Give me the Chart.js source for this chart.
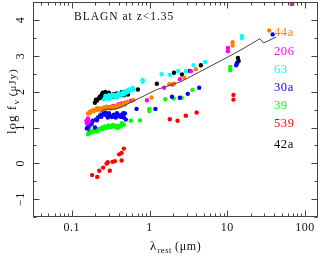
<!DOCTYPE html>
<html>
<head>
<meta charset="utf-8">
<script src="https://cdn.jsdelivr.net/npm/chart.js@4/dist/chart.umd.min.js"></script>
<style>
html,body{margin:0;padding:0;background:#fff;}
canvas{display:block;}
</style>
</head>
<body>
<canvas id="c" width="322" height="258"></canvas>
<script>
// ---- data (rest wavelength in micron, log flux in microJy) ----
const seriesNames = ['44a', '206', '63', '30a', '39', '539', '42a'];

const wl_44a  = [0.161,0.171,0.181,0.192,0.204,0.216,0.229,0.243,0.258,0.274,0.290,0.308,0.327,0.347,0.368,0.391,0.415,0.440,0.467,0.495,0.526,0.17,0.19,0.21,0.25,0.28,0.32,0.36,0.42,0.48,0.617,1.06,1.79,2.06,2.79,3.94,11.7,11.7,34.6];
const lf_44a  = [1.39,1.44,1.47,1.49,1.50,1.49,1.53,1.50,1.56,1.53,1.57,1.54,1.58,1.56,1.60,1.58,1.64,1.63,1.67,1.69,1.72,1.40,1.45,1.54,1.53,1.58,1.53,1.56,1.60,1.64,1.77,1.84,2.21,2.22,2.39,2.63,3.38,3.29,3.71];

const wl_206  = [0.154,0.156,0.161,0.165,0.308,0.337,0.368,0.403,0.440,0.481,0.575,0.925,1.54,1.98,2.45,3.40,10.2,10.2,67.5];
const lf_206  = [1.19,1.11,1.25,1.17,1.57,1.60,1.61,1.65,1.67,1.69,1.75,1.76,2.11,2.20,2.35,2.57,3.13,3.22,4.45];

const wl_63   = [0.258,0.274,0.290,0.308,0.327,0.347,0.368,0.391,0.415,0.440,0.467,0.495,0.526,0.557,0.27,0.29,0.30,0.33,0.36,0.38,0.40,0.45,0.50,0.54,0.604,0.617,0.813,0.813,1.43,1.82,2.33,2.93,3.68,5.20,15.4,15.4];
const lf_63   = [1.78,1.83,1.86,1.81,1.86,1.89,1.86,1.92,1.89,1.94,1.92,1.97,2.00,2.03,1.88,1.80,1.90,1.91,1.90,1.84,1.95,1.98,2.03,2.06,2.11,2.05,2.33,2.28,2.49,2.47,2.58,2.58,2.74,2.83,3.56,3.50];

const wl_30a  = [0.156,0.166,0.176,0.186,0.198,0.204,0.216,0.229,0.243,0.258,0.274,0.290,0.308,0.327,0.347,0.368,0.391,0.415,0.440,0.467,0.481,0.495,0.16,0.18,0.21,0.24,0.27,0.30,0.34,0.38,0.43,0.46,0.68,1.19,1.94,2.45,3.10,4.35,13.0,13.3,38.3];
const lf_30a  = [0.97,1.06,1.14,1.19,1.00,1.22,1.28,1.31,1.36,1.39,1.35,1.28,1.33,1.29,1.36,1.28,1.36,1.31,1.36,1.28,1.39,1.22,1.00,1.10,1.20,1.30,1.42,1.40,1.31,1.40,1.30,1.40,1.52,1.52,1.86,1.83,1.94,2.11,2.74,2.79,3.60];

const wl_39   = [0.161,0.166,0.176,0.186,0.198,0.210,0.222,0.236,0.251,0.266,0.282,0.299,0.317,0.337,0.357,0.379,0.403,0.427,0.440,0.467,0.17,0.19,0.22,0.25,0.29,0.33,0.37,0.41,0.45,0.574,0.75,0.99,0.99,1.59,2.04,2.58,3.57,10.9,10.9];
const lf_39   = [0.81,0.86,0.89,0.875,0.92,0.89,0.96,0.97,1.00,1.03,0.99,1.06,1.01,1.07,1.03,0.99,1.00,1.06,1.12,1.08,0.84,0.92,0.92,0.96,1.04,1.03,1.05,1.04,1.06,1.19,1.20,1.52,1.46,1.79,1.81,1.83,2.05,2.69,2.60];

const wl_539  = [0.182,0.212,0.225,0.253,0.280,0.290,0.308,0.334,0.357,0.406,0.436,0.467,0.436,1.82,2.29,2.93,4.03,12.0,12.0];
const lf_539  = [-0.33,-0.38,-0.21,-0.12,-0.01,0.03,-0.21,0.04,0.06,0.25,0.29,0.41,0.08,1.23,1.19,1.33,1.42,1.91,1.78];

const wl_42a  = [0.198,0.210,0.222,0.236,0.243,0.258,0.266,0.282,0.299,0.317,0.337,0.357,0.379,0.403,0.427,0.453,0.481,0.510,0.526,0.204,0.229,0.25,0.27,0.30,0.34,0.38,0.44,0.47,0.707,1.24,2.06,2.61,3.30,4.57,13.7,14.0,13.4];
const lf_42a  = [1.69,1.75,1.81,1.83,1.92,1.94,1.89,1.94,1.86,1.89,1.86,1.92,1.89,1.94,1.92,1.97,1.94,2.00,1.92,1.78,1.86,1.97,1.99,1.97,1.92,1.95,1.99,1.90,2.06,2.22,2.53,2.48,2.58,2.74,2.94,2.86,2.81];

// template SED curve
const modelWl = [0.161,0.186,0.229,0.266,0.357,0.440,0.557,1.24,2.53,4.44,10.2,15.9,26.3,29.2,42.9];
const modelLf = [0.86,1.11,1.42,1.51,1.51,1.58,1.69,2.06,2.28,2.56,2.97,3.20,3.48,3.36,3.53];

// axis ticks and labels
const xTickValues = [0.1, 1, 10, 100];
const xTickLabels = ['0.1', '1', '10', '100'];
const yTickValues = [-1, 0, 1, 2, 3, 4];
const yTickLabels = ['\u22121', '0', '1', '2', '3', '4'];
const titleText = 'BLAGN at z<1.35';

// ---- styles ----
const seriesColors = ['#ff8000', '#ff00ff', '#00ffff', '#0000ff', '#00ff00', '#ff0000', '#000000'];
const labelY = [33, 51.5, 69.5, 87.5, 105.5, 123.3, 144.5];

const seriesX = [wl_44a, wl_206, wl_63, wl_30a, wl_39, wl_539, wl_42a];
const seriesY = [lf_44a, lf_206, lf_63, lf_30a, lf_39, lf_539, lf_42a];

function pts(xs, ys) { return xs.map((x, i) => ({x: x, y: ys[i]})); }

const datasets = seriesNames.map((name, i) => ({
  label: name,
  data: pts(seriesX[i], seriesY[i]),
  backgroundColor: seriesColors[i],
  borderColor: seriesColors[i],
  borderWidth: 0,
  pointRadius: 2.2,
  pointHoverRadius: 2.2,
  showLine: false,
  order: i + 1,
  clip: false
}));
datasets.push({
  label: 'model',
  data: pts(modelWl, modelLf),
  showLine: true,
  borderColor: '#444',
  borderWidth: 1,
  pointRadius: 0,
  fill: false,
  tension: 0,
  order: 0
});

const SERIF = '"Liberation Serif", "Times New Roman", serif';

const decor = {
  id: 'decor',
  afterDraw(chart) {
    const ctx = chart.ctx;
    const a = chart.chartArea;
    const xs = chart.scales.x, ys = chart.scales.y;
    ctx.save();
    ctx.strokeStyle = '#444';
    ctx.lineWidth = 1;
    ctx.strokeRect(Math.round(a.left) + 0.5, Math.round(a.top) + 0.5,
                   Math.round(a.right - a.left) - 1, Math.round(a.bottom - a.top) - 1);
    const L = Math.round(a.left) + 0.5, R = Math.round(a.right) - 0.5;
    const T = Math.round(a.top) + 0.5, B = Math.round(a.bottom) - 0.5;
    ctx.beginPath();
    for (let e = -2; e <= 2; e++) {
      for (let m = 1; m <= 9; m++) {
        const v = m * Math.pow(10, e);
        if (v < xs.min || v > xs.max) continue;
        const px = Math.round(xs.getPixelForValue(v)) + 0.5;
        const len = m === 1 ? 6 : 3;
        ctx.moveTo(px, B); ctx.lineTo(px, B - len);
        ctx.moveTo(px, T); ctx.lineTo(px, T + len);
      }
    }
    for (let v = -1.5; v <= 4.5001; v += 0.5) {
      const py = Math.round(ys.getPixelForValue(v)) + 0.5;
      const major = Math.abs(v - Math.round(v)) < 1e-6;
      const len = major ? 6 : 3;
      ctx.moveTo(L, py); ctx.lineTo(L + len, py);
      ctx.moveTo(R, py); ctx.lineTo(R - len, py);
    }
    ctx.stroke();

    ctx.fillStyle = '#111';
    ctx.font = '12px ' + SERIF;
    ctx.textAlign = 'center';
    ctx.textBaseline = 'middle';
    if ('letterSpacing' in ctx) ctx.letterSpacing = '0.5px';
    xTickValues.forEach((v, i) => {
      ctx.fillText(xTickLabels[i], xs.getPixelForValue(v), 227.5);
    });
    yTickValues.forEach((v, i) => {
      ctx.save();
      ctx.translate(21, ys.getPixelForValue(v));
      ctx.rotate(-Math.PI / 2);
      ctx.fillText(yTickLabels[i], 0, 0);
      ctx.restore();
    });

    ctx.textAlign = 'left';
    ctx.textBaseline = 'alphabetic';
    ctx.font = '11.5px ' + SERIF;
    if ('letterSpacing' in ctx) ctx.letterSpacing = '1px';
    ctx.fillText(titleText, 74, 20);
    if ('letterSpacing' in ctx) ctx.letterSpacing = '0.6px';

    ctx.font = '12.5px ' + SERIF;
    ctx.textBaseline = 'middle';
    seriesNames.forEach((n, i) => {
      ctx.fillStyle = seriesColors[i];
      ctx.fillText(n, 274, labelY[i]);
    });

    ctx.fillStyle = '#111';
    ctx.textBaseline = 'alphabetic';
    let x = 150;
    ctx.font = '13px ' + SERIF;
    ctx.fillText('\u03bb', x, 250);
    x += ctx.measureText('\u03bb').width + 0.5;
    ctx.font = '8.5px ' + SERIF;
    ctx.fillText('rest', x, 253);
    x += ctx.measureText('rest').width + 3;
    ctx.font = '12px ' + SERIF;
    ctx.fillText('(\u03bcm)', x, 250);

    ctx.save();
    ctx.translate(16, 134);
    ctx.rotate(-Math.PI / 2);
    if ('letterSpacing' in ctx) ctx.letterSpacing = '1px';
    let t = 0;
    ctx.font = '13px ' + SERIF;
    ctx.fillText('log f', t, 0);
    t += ctx.measureText('log f').width + 0.5;
    ctx.font = '9px ' + SERIF;
    ctx.fillText('\u03bd', t, 2.5);
    t += ctx.measureText('\u03bd').width + 3;
    ctx.font = '11px ' + SERIF;
    ctx.fillText('(\u03bcJy)', t, 0);
    ctx.restore();

    ctx.restore();
  }
};

new Chart(document.getElementById('c'), {
  type: 'scatter',
  data: { datasets: datasets },
  options: {
    responsive: false,
    animation: false,
    devicePixelRatio: 1,
    layout: { padding: { top: 1, right: 4, left: 0, bottom: 0 } },
    plugins: { legend: { display: false }, tooltip: { enabled: false } },
    scales: {
      x: {
        type: 'logarithmic',
        min: Math.pow(10, -1.5),
        max: Math.pow(10, 2.167),
        grid: { display: false },
        border: { display: false },
        ticks: { display: false },
        afterFit(s) { s.height = 41; }
      },
      y: {
        type: 'linear',
        min: -1.5,
        max: 4.5,
        grid: { display: false },
        border: { display: false },
        ticks: { display: false },
        afterFit(s) { s.width = 33; }
      }
    }
  },
  plugins: [decor]
});
</script>
</body>
</html>
